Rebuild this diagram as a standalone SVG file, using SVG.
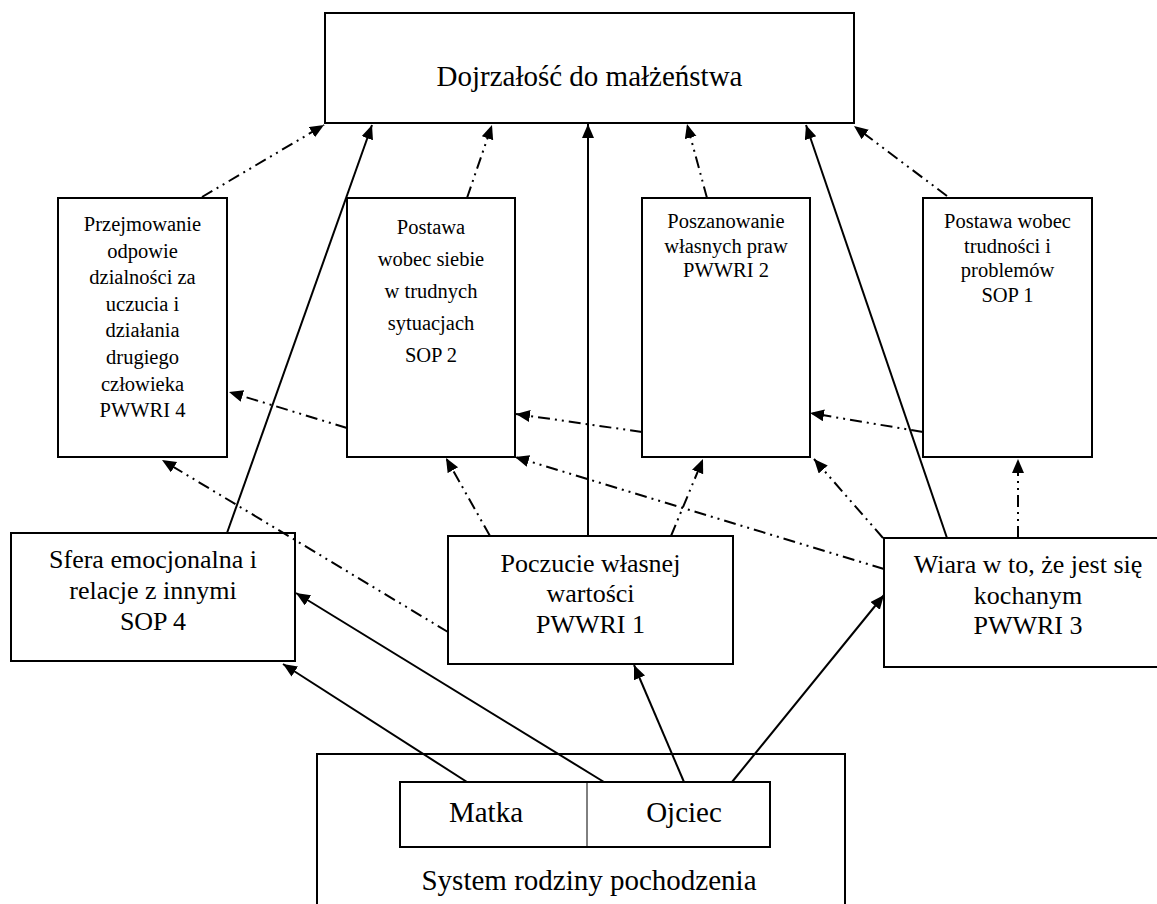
<svg xmlns="http://www.w3.org/2000/svg" width="1157" height="904" viewBox="0 0 1157 904">
<style>
.box{fill:#fff;stroke:#000;stroke-width:2}
text{font-family:'Liberation Serif','Times New Roman',Times,'Nimbus Roman','Nimbus Roman No9 L',Tinos,'Noto Serif','DejaVu Serif',FreeSerif,serif;fill:#000;text-anchor:middle}
.big{font-size:29px}
.mid{font-size:26px}
.sm{font-size:20.5px}
.solid{stroke:#000;stroke-width:2;fill:none;marker-end:url(#ah)}
.dd{stroke:#000;stroke-width:2;fill:none;stroke-dasharray:12 5 2 5 2 5;marker-end:url(#ah)}
</style>
<defs>
<marker id="ah" markerUnits="userSpaceOnUse" markerWidth="16" markerHeight="14" refX="14" refY="6" orient="auto">
<path d="M0,0 L14,6 L0,12 Z" fill="#000"/>
</marker>
</defs>
<rect width="1157" height="904" fill="#fff"/>

<g id="top">
<rect class="box" x="325" y="13" width="529" height="110"/>
<text class="big" x="589.5" y="86">Dojrzałość do małżeństwa</text>
</g>

<g id="pwwri4">
<rect class="box" x="58" y="198" width="169" height="259"/>
<text class="sm" x="142.5" y="231">Przejmowanie</text>
<text class="sm" x="142.5" y="257.5">odpowie</text>
<text class="sm" x="142.5" y="284">dzialności za</text>
<text class="sm" x="142.5" y="310.5">uczucia i</text>
<text class="sm" x="142.5" y="337">działania</text>
<text class="sm" x="142.5" y="364">drugiego</text>
<text class="sm" x="142.5" y="390.5">człowieka</text>
<text class="sm" x="142.5" y="417">PWWRI 4</text>
</g>

<g id="sop2">
<rect class="box" x="347" y="198" width="168" height="259"/>
<text class="sm" x="431" y="234">Postawa</text>
<text class="sm" x="431" y="266">wobec siebie</text>
<text class="sm" x="431" y="298">w trudnych</text>
<text class="sm" x="431" y="330">sytuacjach</text>
<text class="sm" x="431" y="362">SOP 2</text>
</g>

<g id="pwwri2">
<rect class="box" x="642" y="198" width="168" height="259"/>
<text class="sm" x="726" y="228">Poszanowanie</text>
<text class="sm" x="726" y="252.5">własnych praw</text>
<text class="sm" x="726" y="277">PWWRI 2</text>
</g>

<g id="sop1">
<rect class="box" x="923" y="198" width="169" height="259"/>
<text class="sm" x="1007.5" y="228">Postawa wobec</text>
<text class="sm" x="1007.5" y="252.5">trudności i</text>
<text class="sm" x="1007.5" y="277">problemów</text>
<text class="sm" x="1007.5" y="301.5">SOP 1</text>
</g>

<g id="sop4">
<rect class="box" x="11" y="533" width="284" height="128"/>
<text class="mid" x="153" y="568">Sfera emocjonalna i</text>
<text class="mid" x="153" y="599">relacje z innymi</text>
<text class="mid" x="153" y="630">SOP 4</text>
</g>

<g id="pwwri1">
<rect class="box" x="448" y="536" width="285" height="128"/>
<text class="mid" x="590.5" y="572">Poczucie własnej</text>
<text class="mid" x="590.5" y="602">wartości</text>
<text class="mid" x="590.5" y="633">PWWRI 1</text>
</g>

<g id="pwwri3">
<rect class="box" x="884" y="538" width="290" height="129"/>
<text class="mid" x="1028" y="573">Wiara w to, że jest się</text>
<text class="mid" x="1028" y="604">kochanym</text>
<text class="mid" x="1028" y="634">PWWRI 3</text>
</g>

<g id="system">
<rect class="box" x="317" y="754" width="528" height="170"/>
<text class="big" x="589" y="890">System rodziny pochodzenia</text>
</g>

<g id="parents">
<rect class="box" x="400" y="782" width="370" height="65"/>
<line x1="587" y1="782" x2="587" y2="847" stroke="#000" stroke-width="1"/>
<text class="big" x="486" y="822">Matka</text>
<text class="big" x="684" y="822">Ojciec</text>
</g>

<g id="connectors">
<line class="solid" x1="227" y1="533" x2="372" y2="125"/>
<line class="solid" x1="588" y1="536" x2="588" y2="124"/>
<line class="solid" x1="947" y1="538" x2="806" y2="125"/>
<line class="solid" x1="467" y1="782" x2="283" y2="664"/>
<line class="solid" x1="604" y1="782" x2="296" y2="593"/>
<line class="solid" x1="684" y1="782" x2="634" y2="665"/>
<line class="solid" x1="732" y1="782" x2="884" y2="595"/>

<line class="dd" x1="202" y1="197" x2="324" y2="125"/>
<line class="dd" x1="467" y1="198" x2="492" y2="125"/>
<line class="dd" x1="707" y1="198" x2="687" y2="124"/>
<line class="dd" x1="947" y1="196" x2="854" y2="126"/>
<line class="dd" x1="347" y1="428" x2="229" y2="392"/>
<line class="dd" x1="642" y1="432" x2="516" y2="414"/>
<line class="dd" x1="923" y1="432" x2="810" y2="413"/>
<line class="dd" x1="448" y1="632" x2="162" y2="460"/>
<line class="dd" x1="490" y1="536" x2="446" y2="458"/>
<line class="dd" x1="671" y1="536" x2="703" y2="459"/>
<line class="dd" x1="884" y1="569" x2="515" y2="457"/>
<line class="dd" x1="883" y1="538" x2="814" y2="459"/>
<line class="dd" x1="1018" y1="538" x2="1018" y2="459"/>
</g>
</svg>
